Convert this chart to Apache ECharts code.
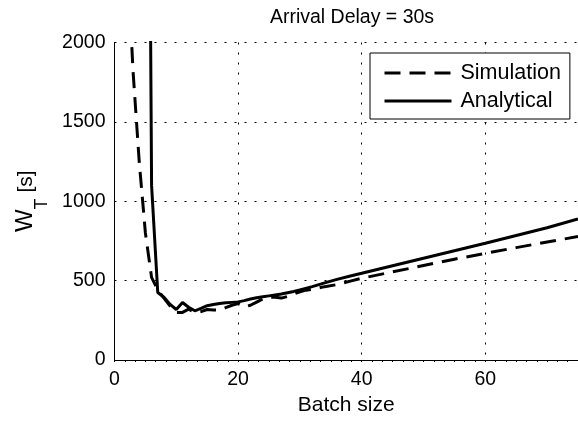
<!DOCTYPE html>
<html>
<head>
    <meta charset="utf-8">
    <title>Arrival Delay = 30s</title>
    <script src="https://cdn.jsdelivr.net/npm/echarts@6/dist/echarts.min.js"></script>
    <style>
        html,body{
            height: 100%;
            margin: 0;
            padding: 0;
            background: #fff;
        }
    </style>
</head>
<body>
    <div id="main" style="width: 578px;height:421px;"></div>
    <script type="text/javascript">
    // batch size / waiting time
    var simX = [2, 3, 4, 5, 6, 7, 8, 9, 10, 11, 12, 13, 14, 15, 16, 17, 18, 19, 20,
        21, 22, 23, 24, 25, 26, 27, 28, 29, 30, 31, 32, 34, 36, 38, 40, 45, 50, 55, 60, 65, 70, 75];
    var simY = [2600, 1820, 1250, 800, 520, 440, 390, 340, 300, 300, 320, 300, 305, 318, 315, 315, 330, 345, 355,
        335, 345, 365, 385, 395, 395, 390, 400, 415, 430, 440, 445, 462, 475, 495, 515, 555, 595, 635, 672, 708, 743, 778];

    var anaX = [5, 6, 7, 8, 9, 10, 11, 12, 13, 14, 15, 16, 17, 18, 19, 20,
        21, 22, 23, 24, 25, 26, 27, 28, 29, 30, 32, 34, 36, 38, 40, 45, 50, 55, 60, 65, 70, 75];
    var anaY = [7100, 1100, 425, 395, 350, 318, 362, 332, 310, 325, 342, 350, 356, 360, 363, 366,
        374, 384, 392, 398, 404, 410, 416, 424, 432, 442, 462, 486, 508, 528, 546, 594, 641, 688, 735, 784, 833, 889];

    var xTicks = [0, 20, 40, 60];
    var yTicks = [0, 500, 1000, 1500, 2000];

    function pairs(xs, ys){
        var out = [];
        for(var i = 0; i < xs.length; i++){
            out.push([xs[i], ys[i]]);
        }
        return out;
    }

    var font = 'Liberation Sans, Arial, Helvetica, sans-serif';
    var myChart = echarts.init(document.getElementById('main'));

    var option = {
        animation: false,
        title: {
            text: 'Arrival Delay = 30s',
            left: 347,
            top: 3,
            textAlign: 'center',
            textStyle: {
                fontFamily: font,
                fontSize: 19.5,
                fontWeight: 'normal',
                color: '#000'
            }
        },
        grid: {
            left: 114.5,
            top: 42.5,
            right: -5,
            bottom: 61
        },
        legend: {
            orient: 'vertical',
            left: 370,
            top: 53,
            padding: [9, 9, 7, 13],
            itemGap: 6,
            itemWidth: 67,
            itemHeight: 14,
            borderColor: '#000',
            borderWidth: 1,
            backgroundColor: '#fff',
            itemStyle: { opacity: 0 },
            lineStyle: { width: 3, color: '#000' },
            textStyle: {
                fontFamily: font,
                fontSize: 21.5,
                color: '#000',
                padding: [0, 0, 0, 4]
            },
            data: ['Simulation', 'Analytical']
        },
        xAxis: {
            type: 'value',
            min: 0,
            max: 75,
            interval: 20,
            name: 'Batch size',
            nameLocation: 'middle',
            nameGap: 34,
            nameTextStyle: {
                fontFamily: font,
                fontSize: 21,
                color: '#000'
            },
            axisLine: {
                onZero: false,
                lineStyle: { color: '#000', width: 1 }
            },
            axisTick: {
                show: true,
                length: 2,
                lineStyle: { color: '#000' }
            },
            minorTick: {
                show: true,
                splitNumber: 12,
                length: 2,
                lineStyle: { color: '#000' }
            },
            axisLabel: {
                margin: 10,
                fontFamily: font,
                fontSize: 19.5,
                color: '#000',
                showMaxLabel: false,
                formatter: function(v){
                    return xTicks.indexOf(v) >= 0 ? String(v) : '';
                }
            },
            splitLine: {
                show: true,
                lineStyle: { color: '#000', width: 1, type: [2, 8] }
            }
        },
        yAxis: {
            type: 'value',
            min: 0,
            max: 2000,
            interval: 500,
            name: '{w|W}{t|T}{s| [s]}',
            nameLocation: 'middle',
            nameRotate: 90,
            nameGap: 63,
            nameTextStyle: {
                rich: {
                    w: {
                        fontFamily: font,
                        fontSize: 24,
                        color: '#000',
                        lineHeight: 38,
                        verticalAlign: 'top'
                    },
                    t: {
                        fontFamily: font,
                        fontSize: 18,
                        color: '#000',
                        lineHeight: 38,
                        verticalAlign: 'bottom'
                    },
                    s: {
                        fontFamily: font,
                        fontSize: 21,
                        color: '#000',
                        lineHeight: 38,
                        verticalAlign: 'top',
                        padding: [2, 0, 0, 0]
                    }
                }
            },
            axisLine: {
                show: true,
                lineStyle: { color: '#000', width: 1 }
            },
            axisTick: { show: false },
            axisLabel: {
                margin: 9,
                fontFamily: font,
                fontSize: 19.5,
                color: '#000',
                formatter: function(v){
                    return yTicks.indexOf(v) >= 0 ? String(v) : '';
                }
            },
            splitLine: {
                show: true,
                lineStyle: { color: '#000', width: 1, type: [2, 8] }
            }
        },
        series: [
            {
                name: 'Simulation',
                type: 'line',
                symbol: 'none',
                clip: true,
                lineStyle: { color: '#000', width: 3, type: [16, 9] },
                itemStyle: { color: '#000' },
                data: pairs(simX, simY)
            },
            {
                name: 'Analytical',
                type: 'line',
                symbol: 'none',
                clip: true,
                lineStyle: { color: '#000', width: 3 },
                itemStyle: { color: '#000' },
                data: pairs(anaX, anaY)
            }
        ]
    };

    myChart.setOption(option);
    </script>
</body>
</html>
